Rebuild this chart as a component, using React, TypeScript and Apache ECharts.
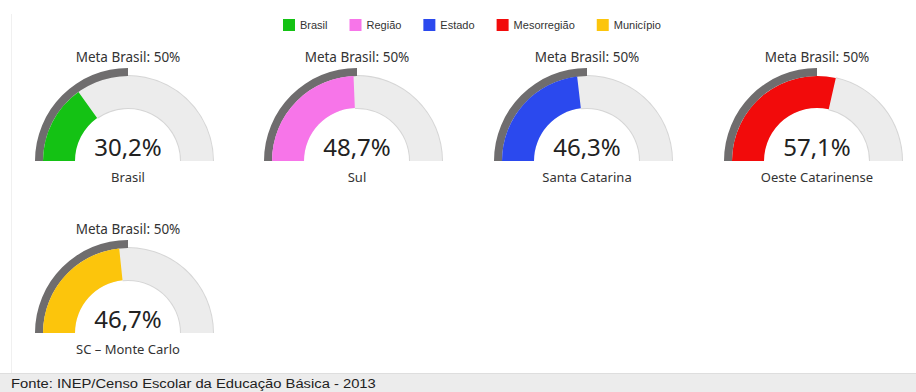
import React, { useEffect, useRef } from "react";
import * as echarts from "echarts";

// Indicator levels shown in the legend, one gauge per level
const levelNames = ["Brasil", "Região", "Estado", "Mesorregião", "Município"];
const regionLabels = ["Brasil", "Sul", "Santa Catarina", "Oeste Catarinense", "SC – Monte Carlo"];
const values = [30.2, 48.7, 46.3, 57.1, 46.7];
const levelColors = ["#14c214", "#f775e9", "#2b49ee", "#f20b0b", "#fcc50c"];
const metaBrasil = 50;
const sourceNote = "Fonte: INEP/Censo Escolar da Educação Básica - 2013";

// gauge centres (px) in the 916x392 canvas
const centers: [number, number][] = [
  [128, 161],
  [357, 161],
  [587, 161],
  [817, 161],
  [128, 333],
];

const GAUGE_FONT = "'Noto Sans', 'DejaVu Sans', sans-serif";
const fmt = (v: number) => v.toFixed(1).replace(".", ",") + "%";

const hidden = {
  pointer: { show: false },
  axisTick: { show: false },
  splitLine: { show: false },
  axisLabel: { show: false },
  anchor: { show: false },
};

function buildSeries() {
  const series: any[] = [];
  values.forEach((v, i) => {
    const center = centers[i];
    // thin outline around the unfilled part of the arc
    series.push({
      type: "gauge",
      silent: true,
      startAngle: 180,
      endAngle: 0,
      min: 0,
      max: 100,
      center,
      radius: 86,
      ...hidden,
      axisLine: {
        lineStyle: {
          width: 34,
          color: [
            [v / 100, "rgba(0,0,0,0)"],
            [1, "#d6d6d6"],
          ],
        },
      },
      title: { show: false },
      detail: { show: false },
      data: [],
    });
    // main arc with the indicator value
    series.push({
      type: "gauge",
      name: levelNames[i],
      silent: true,
      startAngle: 180,
      endAngle: 0,
      min: 0,
      max: 100,
      center,
      radius: 85,
      ...hidden,
      itemStyle: { color: levelColors[i] },
      axisLine: { lineStyle: { width: 32, color: [[1, "#ececec"]] } },
      progress: { show: true, width: 32, itemStyle: { color: levelColors[i] } },
      title: {
        offsetCenter: [0, 16],
        fontSize: 13,
        fontWeight: "normal",
        color: "#333",
        fontFamily: GAUGE_FONT,
      },
      detail: {
        offsetCenter: [0, -15],
        fontSize: 24,
        fontWeight: "normal",
        color: "#222",
        fontFamily: GAUGE_FONT,
        valueAnimation: false,
        formatter: (val: number) => fmt(val),
      },
      data: [{ name: regionLabels[i], value: v }],
    });
    // national target band on the outside of the arc
    series.push({
      type: "gauge",
      silent: true,
      startAngle: 180,
      endAngle: 0,
      min: 0,
      max: 100,
      center,
      radius: 93,
      ...hidden,
      axisLine: { lineStyle: { width: 8, color: [[1, "rgba(0,0,0,0)"]] } },
      progress: { show: true, width: 8, itemStyle: { color: "#6f6d6e" } },
      title: { show: false },
      detail: {
        offsetCenter: [0, -104],
        fontSize: 13.5,
        fontWeight: "normal",
        color: "#333",
        fontFamily: GAUGE_FONT,
        valueAnimation: false,
        formatter: "Meta Brasil: {value}%",
      },
      data: [{ value: metaBrasil }],
    });
  });
  return series;
}

export default function App() {
  const ref = useRef<HTMLDivElement>(null);

  useEffect(() => {
    if (!ref.current) return;
    const chart = echarts.init(ref.current, undefined, { renderer: "svg" });
    chart.setOption({
      animation: false,
      backgroundColor: "#ffffff",
      legend: {
        left: 278,
        top: 14,
        itemWidth: 12,
        itemHeight: 12,
        itemGap: 22,
        icon: "rect",
        selectedMode: false,
        textStyle: {
          fontFamily: "'Liberation Sans', Arial, sans-serif",
          fontSize: 11,
          color: "#333",
        },
        data: levelNames.map((n, i) => ({ name: n, itemStyle: { color: levelColors[i] } })),
      },
      graphic: [
        {
          type: "line",
          silent: true,
          shape: { x1: 11.5, y1: 14, x2: 11.5, y2: 373 },
          style: { stroke: "#f0f0f0", lineWidth: 1 },
        },
        {
          type: "rect",
          silent: true,
          shape: { x: 0, y: 373, width: 916, height: 19 },
          style: { fill: "#ececec" },
        },
        {
          type: "line",
          silent: true,
          shape: { x1: 0, y1: 373.5, x2: 916, y2: 373.5 },
          style: { stroke: "#dedede", lineWidth: 1 },
        },
        {
          type: "text",
          silent: true,
          x: 11,
          y: 384,
          scaleX: 1.23,
          style: {
            text: sourceNote,
            fill: "#222",
            font: "12px 'Liberation Sans', Arial, sans-serif",
            verticalAlign: "middle",
          },
        },
      ],
      series: buildSeries(),
    });
    return () => chart.dispose();
  }, []);

  return (
    <div
      ref={ref}
      style={{ position: "fixed", left: 0, top: 0, width: 916, height: 392 }}
    />
  );
}
